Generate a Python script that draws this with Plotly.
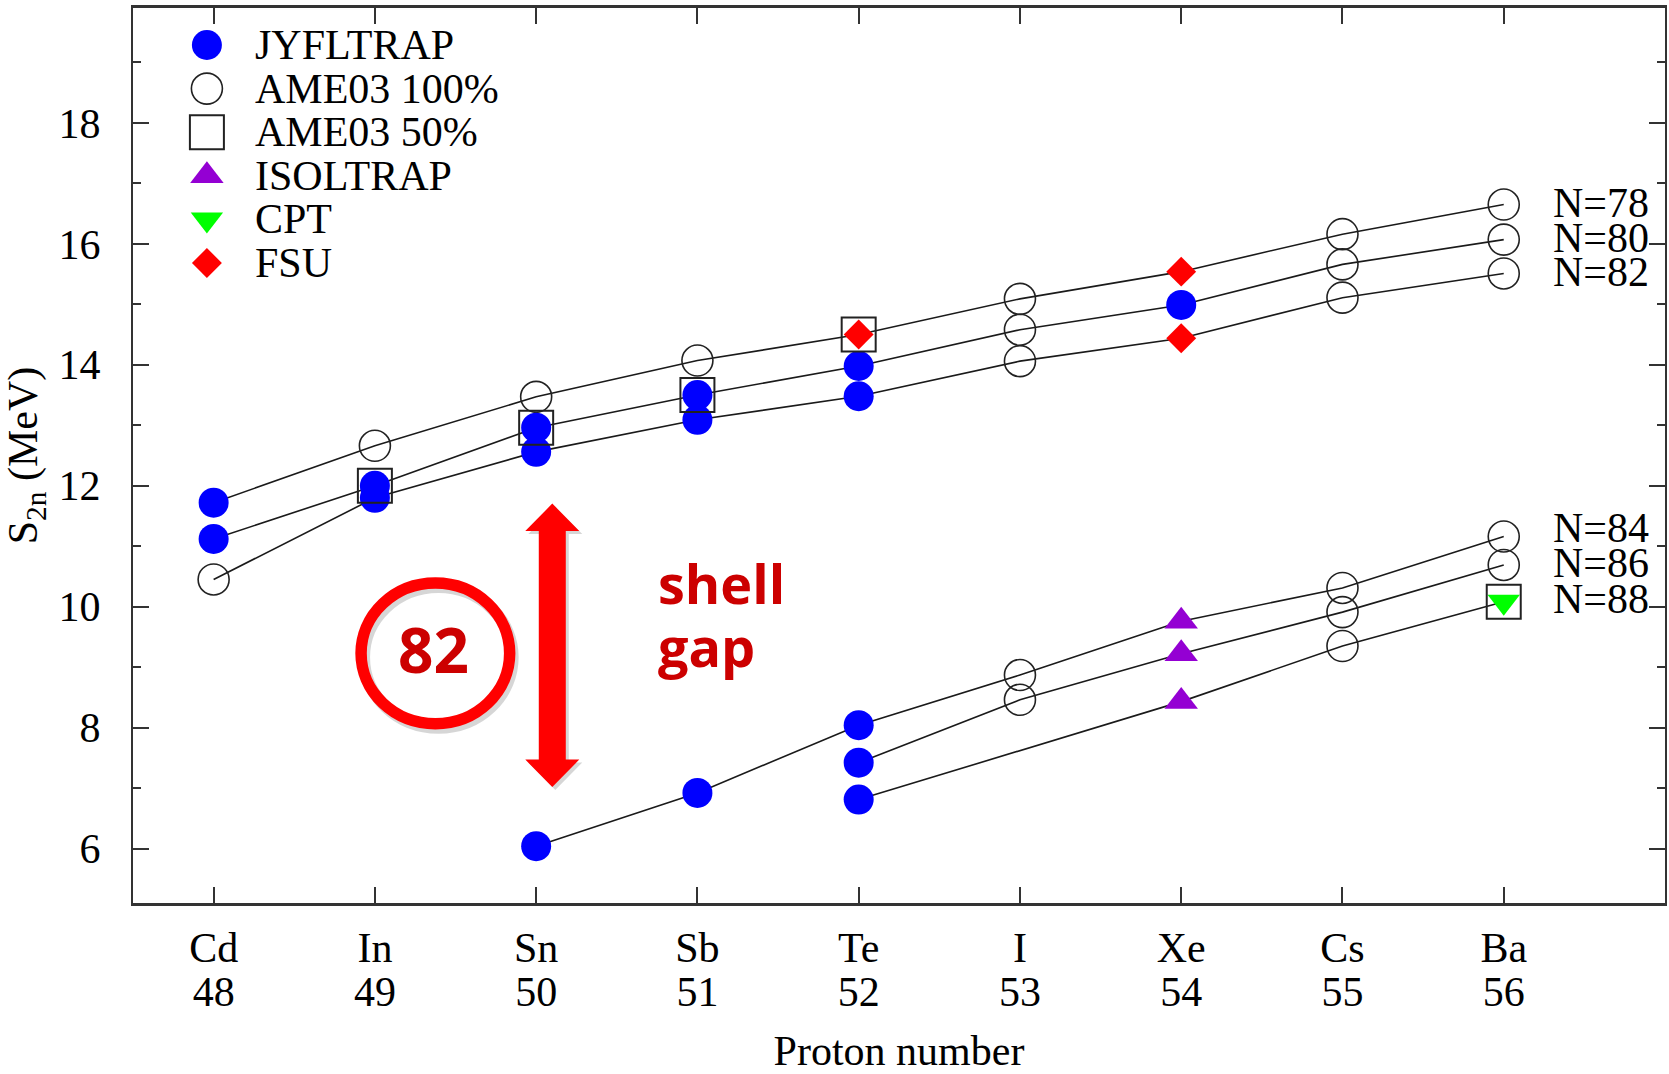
import plotly.graph_objects as go

# Proton numbers and element symbols on the x axis
Z_ALL = [48, 49, 50, 51, 52, 53, 54, 55, 56]
ELEMENTS = ["Cd", "In", "Sn", "Sb", "Te", "I", "Xe", "Cs", "Ba"]

# Two-neutron separation energies S2n (MeV) along each isotone chain
Z_N78 = [48, 49, 50, 51, 52, 53, 54, 55, 56]
S2N_N78 = [11.72, 12.66, 13.47, 14.07, 14.50, 15.09, 15.54, 16.16, 16.65]
Z_N80 = [48, 49, 50, 51, 52, 53, 54, 55, 56]
S2N_N80 = [11.12, 12.00, 12.96, 13.50, 13.98, 14.58, 14.99, 15.66, 16.07]
Z_N82 = [48, 49, 50, 51, 52, 53, 54, 55, 56]
S2N_N82 = [10.45, 11.80, 12.56, 13.09, 13.48, 14.06, 14.44, 15.11, 15.51]
Z_N84 = [50, 51, 52, 53, 54, 55, 56]
S2N_N84 = [6.04, 6.92, 8.04, 8.87, 9.76, 10.31, 11.16]
Z_N86 = [52, 53, 54, 55, 56]
S2N_N86 = [7.42, 8.46, 9.22, 9.91, 10.69]
Z_N88 = [52, 54, 55, 56]
S2N_N88 = [6.81, 8.43, 9.35, 10.08]

# (N, Z) points contributed by each data source
JYFLTRAP_POINTS = [(78, 48), (80, 48), (80, 49), (82, 49), (80, 50), (82, 50),
                   (80, 51), (82, 51), (80, 52), (82, 52), (80, 54),
                   (84, 50), (84, 51), (84, 52), (86, 52), (88, 52)]
AME03_100_POINTS = [(82, 48), (78, 49), (78, 50), (78, 51), (78, 53), (80, 53),
                    (82, 53), (78, 55), (80, 55), (82, 55), (78, 56), (80, 56),
                    (82, 56), (84, 53), (86, 53), (84, 55), (86, 55), (88, 55),
                    (84, 56), (86, 56)]
AME03_50_POINTS = [(80, 49), (80, 50), (80, 51), (78, 52), (88, 56)]
ISOLTRAP_POINTS = [(84, 54), (86, 54), (88, 54)]
CPT_POINTS = [(88, 56)]
FSU_POINTS = [(78, 52), (78, 54), (82, 54)]

CHAINS = {
    78: (Z_N78, S2N_N78),
    80: (Z_N80, S2N_N80),
    82: (Z_N82, S2N_N82),
    84: (Z_N84, S2N_N84),
    86: (Z_N86, S2N_N86),
    88: (Z_N88, S2N_N88),
}


def s2n(n, z):
    zs, vals = CHAINS[n]
    return vals[zs.index(z)]


def points_xy(points):
    return [z for _, z in points], [s2n(n, z) for n, z in points]


SERIF = "Liberation Serif, Times New Roman, serif"
AXIS_COLOR = "#333333"
TEXT_FONT = dict(family=SERIF, size=42, color="black")

# marker styles for each source, in drawing order
SOURCES = [
    ("AME03 100%", AME03_100_POINTS,
     dict(symbol="circle-open", size=31, color="#222222", line=dict(width=1.6, color="#222222"))),
    ("JYFLTRAP", JYFLTRAP_POINTS,
     dict(symbol="circle", size=30, color="#0000ff", line=dict(width=0))),
    ("ISOLTRAP", ISOLTRAP_POINTS,
     dict(symbol="triangle-up", size=29, color="#9400d3", line=dict(width=0))),
    ("CPT", CPT_POINTS,
     dict(symbol="triangle-down", size=28, color="#00ff00", line=dict(width=0))),
    ("FSU", FSU_POINTS,
     dict(symbol="diamond", size=23, color="#ff0000", line=dict(width=0))),
    ("AME03 50%", AME03_50_POINTS,
     dict(symbol="square-open", size=34, color="#222222", line=dict(width=2, color="#222222"))),
]
LEGEND_ORDER = ["JYFLTRAP", "AME03 100%", "AME03 50%", "ISOLTRAP", "CPT", "FSU"]

fig = go.Figure()

# isotone chains
for n, (zs, vals) in CHAINS.items():
    fig.add_trace(go.Scatter(
        x=zs, y=vals, mode="lines", line=dict(color="#1a1a1a", width=1.6),
        showlegend=False, hoverinfo="skip"))

# measurement markers
for name, pts, mk in SOURCES:
    xs, ys = points_xy(pts)
    fig.add_trace(go.Scatter(x=xs, y=ys, mode="markers", name=name,
                             marker=mk, showlegend=False))

# empty carrier so the proton-number axis gets its own subplot
fig.add_trace(go.Scatter(x=Z_ALL, y=[None] * len(Z_ALL), xaxis="x2", yaxis="y",
                         mode="markers", marker=dict(opacity=0),
                         showlegend=False, hoverinfo="skip"))

# key entries drawn on a pixel-scaled overlay (0..1534 across, 0..895 down)
style_by_name = {name: mk for name, _, mk in SOURCES}
annotations = []
for k, name in enumerate(LEGEND_ORDER):
    ky = 37 + 43.6 * k
    fig.add_trace(go.Scatter(x=[74], y=[ky], mode="markers", xaxis="x3", yaxis="y3",
                             marker=style_by_name[name], showlegend=False,
                             hoverinfo="skip"))
    annotations.append(dict(x=120.5, y=ky, xref="x3", yref="y3", text=name,
                            showarrow=False, xanchor="left", yanchor="middle",
                            font=TEXT_FONT))

# chain labels at the right end of each line
label_shift = {78: 2, 80: 2, 82: 1, 84: 9, 86: 2, 88: 3}
for n, (zs, vals) in CHAINS.items():
    annotations.append(dict(x=zs[-1], y=vals[-1], xref="x", yref="y",
                            text=f"N={n}", showarrow=False, xanchor="left",
                            yanchor="middle", xshift=47, yshift=label_shift[n],
                            font=TEXT_FONT))

# shell-gap call-out
RED_TEXT = "#cc0000"
CALLOUT_FONT = "Open Sans, Arial, sans-serif"
annotations += [
    dict(x=49.362, y=9.294, xref="x", yref="y", text="82", showarrow=False,
         xanchor="center", yanchor="middle",
         font=dict(family=CALLOUT_FONT, size=62, color=RED_TEXT, weight=700)),
    dict(x=50.741, y=10.397, xref="x", yref="y", text="shell", showarrow=False,
         xanchor="left", yanchor="middle",
         font=dict(family=CALLOUT_FONT, size=54, color=RED_TEXT, weight=700)),
    dict(x=50.741, y=9.349, xref="x", yref="y", text="gap", showarrow=False,
         xanchor="left", yanchor="middle",
         font=dict(family=CALLOUT_FONT, size=54, color=RED_TEXT, weight=700)),
]


def arrow_path(dx=0.0, dy=0.0):
    pts = [(-13.5, 114.3), (-27, 114.3), (0, 141.7), (27, 114.3), (13.5, 114.3),
           (13.5, -114.3), (27, -114.3), (0, -141.7), (-27, -114.3), (-13.5, -114.3)]
    return "M " + " L ".join(f"{x + dx:.1f},{y + dy:.1f}" for x, y in pts) + " Z"


SHADOW = "rgba(0,0,0,0.16)"
shapes = [
    # soft drop shadows
    dict(type="circle", xref="x", yref="y", xsizemode="pixel", ysizemode="pixel",
         xanchor=49.375, yanchor=9.228, x0=-71.3, x1=77.3, y0=-74.3, y1=66.3,
         line=dict(color=SHADOW, width=12)),
    dict(type="path", xref="x", yref="y", xsizemode="pixel", ysizemode="pixel",
         xanchor=50.10, yanchor=9.361, path=arrow_path(3, -3),
         fillcolor=SHADOW, line=dict(width=0)),
    # red ring around the magic number
    dict(type="circle", xref="x", yref="y", xsizemode="pixel", ysizemode="pixel",
         xanchor=49.375, yanchor=9.228, x0=-74.3, x1=74.3, y0=-70.3, y1=70.3,
         line=dict(color="#ff0000", width=11.5)),
    # double-headed arrow spanning the gap
    dict(type="path", xref="x", yref="y", xsizemode="pixel", ysizemode="pixel",
         xanchor=50.10, yanchor=9.361, path=arrow_path(),
         fillcolor="#ff0000", line=dict(width=0)),
]

X_RANGE = [47.5, 57.0]

fig.update_layout(
    width=1669, height=1074,
    margin=dict(l=133, r=2, t=8, b=171),
    paper_bgcolor="white", plot_bgcolor="white",
    showlegend=False,
    xaxis=dict(
        range=X_RANGE, tickmode="array", tickvals=Z_ALL, ticktext=ELEMENTS,
        ticks="inside", ticklen=16, tickwidth=1.5, tickcolor=AXIS_COLOR,
        showline=True, linewidth=2.5, linecolor=AXIS_COLOR, mirror="ticks",
        showgrid=False, zeroline=False, tickfont=TEXT_FONT, ticklabelstandoff=6,
    ),
    xaxis2=dict(
        range=X_RANGE, overlaying="x", anchor="y", side="bottom",
        tickmode="array", tickvals=Z_ALL, ticktext=[str(z) for z in Z_ALL],
        ticks="", showline=False, showgrid=False, zeroline=False,
        tickfont=TEXT_FONT, ticklabelstandoff=60,
        title=dict(text="Proton number", font=TEXT_FONT, standoff=28),
    ),
    yaxis=dict(
        range=[5.1, 19.9], tickmode="linear", tick0=0, dtick=2,
        ticks="inside", ticklen=16, tickwidth=1.5, tickcolor=AXIS_COLOR,
        minor=dict(ticks="inside", ticklen=8, tickwidth=1.5, tickcolor=AXIS_COLOR,
                   tick0=0, dtick=1),
        showline=True, linewidth=2, linecolor=AXIS_COLOR, mirror="ticks",
        showgrid=False, zeroline=False, tickfont=TEXT_FONT, ticklabelstandoff=22,
        title=dict(text="S<sub>2n</sub> (MeV)", font=TEXT_FONT, standoff=11),
    ),
    xaxis3=dict(domain=[0, 1], range=[0, 1534], anchor="y3", overlaying="x",
                visible=False),
    yaxis3=dict(domain=[0, 1], range=[895, 0], anchor="x3", overlaying="y",
                visible=False),
    annotations=annotations,
    shapes=shapes,
)

fig.write_html("out.html")
